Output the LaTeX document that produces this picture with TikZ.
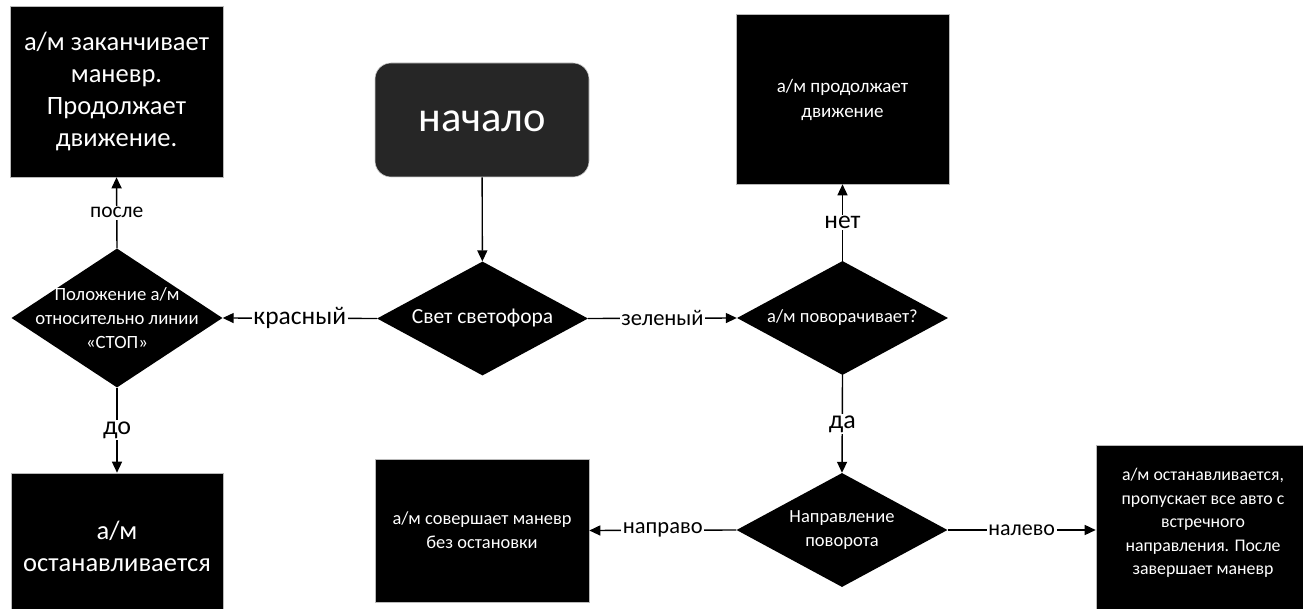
\documentclass[tikz,border=0pt]{standalone}
\usepackage{fontspec}
\setmainfont{Carlito}
\usetikzlibrary{shapes.geometric,arrows.meta}
\tikzset{
  blk/.style={draw=gray!55, line width=0.6pt, fill=black, rectangle, inner sep=0pt},
  diam/.style={diamond, fill=black, inner sep=0pt},
  wtxt/.style={text=white, align=center, inner sep=0pt},
  lbl/.style={fill=white, inner sep=1.5pt, text=black},
  conn/.style={line width=1.4pt, -{Triangle[length=11pt,width=10pt]}},
}
\newcommand{\fs}[2]{\fontsize{#1}{#2}\selectfont}
\begin{document}
\begin{tikzpicture}[x=1pt,y=-1pt]
\useasboundingbox (0,0) rectangle (1303,609);
% boxes
\node[blk, minimum width=213pt, minimum height=171pt] (tl) at (116.5,91.5) {};
\node[wtxt, font=\fs{26.5}{32}] at (tl) {а/м заканчивает\\маневр.\\Продолжает\\движение.};
\node[blk, minimum width=212pt, minimum height=170pt] (bl) at (117,558) {};
\node[wtxt, font=\fs{26.5}{32}] at (117,546) {а/м\\останавливается};
\node[draw=gray!40, line width=0.6pt, fill=black!85, rounded corners=16pt, minimum width=214pt, minimum height=114pt, inner sep=0pt] (start) at (482,120) {};
\node[wtxt, font=\fs{42.5}{48}] at (482,121) {начало};
\node[blk, minimum width=213pt, minimum height=170pt] (tr) at (842.5,99) {};
\node[wtxt, font=\fs{19}{25}] at (842.5,100) {а/м продолжает\\движение};
\node[blk, minimum width=214pt, minimum height=143pt] (bm) at (482,530.5) {};
\node[wtxt, font=\fs{18.4}{24}] at (bm) {а/м совершает маневр\\без остановки};
\node[blk, minimum width=214pt, minimum height=170pt] (br) at (1203,530) {};
\node[wtxt, font=\fs{17.8}{23.5}] at (1203,523) {а/м останавливается,\\пропускает все авто с\\встречного\\направления. После\\завершает маневр};
% diamonds
\node[diam, minimum width=211pt, minimum height=139pt] (dl) at (117,318) {};
\node[wtxt, font=\fs{18.7}{24}] at (dl) {Положение а/м\\относительно линии\\«СТОП»};
\node[diam, minimum width=211pt, minimum height=114pt] (dc) at (482.5,318.5) {};
\node[wtxt, font=\fs{21.5}{24}] at (dc) {Свет светофора};
\node[diam, minimum width=211pt, minimum height=114pt] (dr) at (842.5,318) {};
\node[wtxt, font=\fs{18.5}{24}] at (dr) {а/м поворачивает?};
\node[diam, minimum width=211pt, minimum height=114pt] (dn) at (842,530) {};
\node[wtxt, font=\fs{18.5}{24}] at (dn) {Направление\\поворота};
% connectors
\draw[conn] (start) -- (dc);
\draw[conn] (dc.west) -- node[lbl, font=\fs{25.5}{28}] {красный} (dl.east);
\draw[conn] (dl.north) -- node[lbl, font=\fs{21.5}{24}] {после} (tl.south);
\draw[conn] (dl.south) -- node[lbl, font=\fs{26}{28}] {до} (bl.north);
\draw[conn] (dc.east) -- node[lbl, font=\fs{22.5}{24}] {зеленый} (dr.west);
\draw[conn] (dr.north) -- node[lbl, font=\fs{25.5}{28}] {нет} (tr.south);
\draw[conn] (dr.south) -- node[lbl, font=\fs{26}{28}] {да} (dn.north);
\draw[conn] (dn.west) -- node[lbl, font=\fs{22.5}{24}] {направо} (bm.east);
\draw[conn] (dn.east) -- node[lbl, font=\fs{22}{24}] {налево} (br.west);
\end{tikzpicture}
\end{document}
